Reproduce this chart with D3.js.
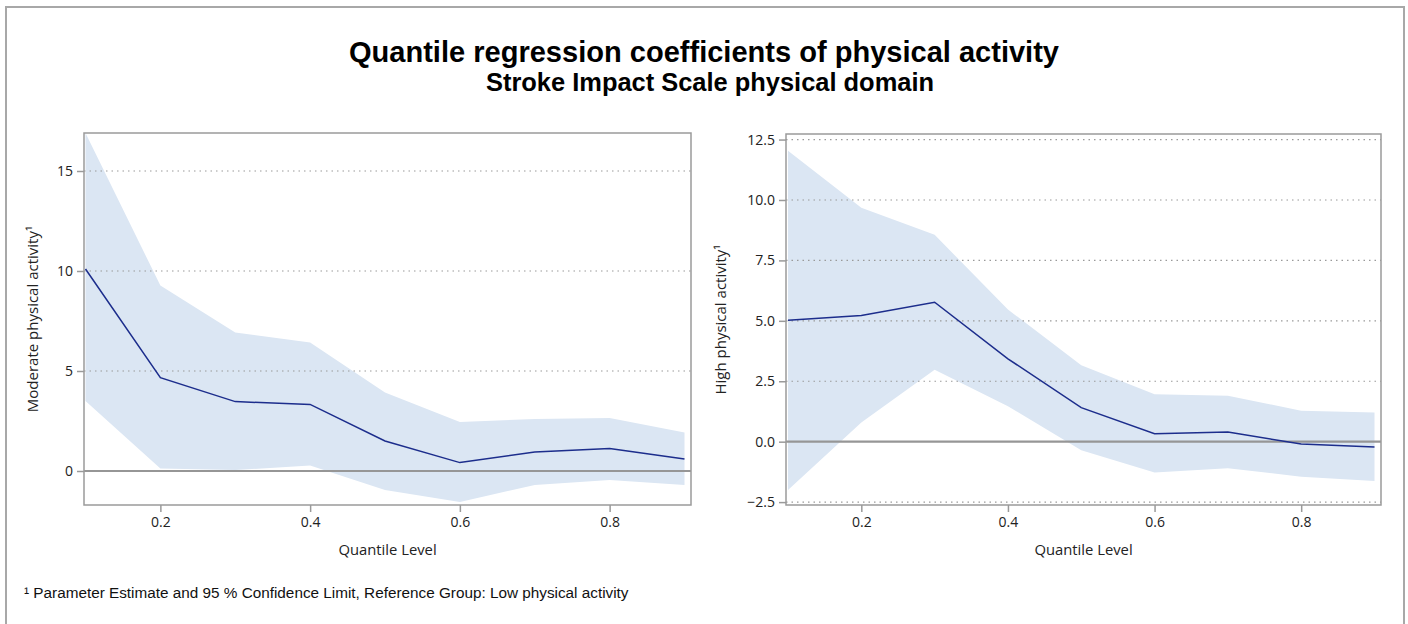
<!DOCTYPE html>
<html>
<head>
<meta charset="utf-8">
<script src="https://cdn.jsdelivr.net/npm/d3@7"></script>
<style>
  body { margin: 0; background: #fff; }
  svg { display: block; }
</style>
</head>
<body>
<svg width="1408" height="624"></svg>
<script>
// quantile levels shared by both panels
const quantiles = [0.1, 0.2, 0.3, 0.4, 0.5, 0.6, 0.7, 0.8, 0.9];

// moderate physical activity
const modEstimate = [10.1, 4.67, 3.47, 3.33, 1.5, 0.42, 0.95, 1.12, 0.6];
const modUpper = [16.9, 9.27, 6.93, 6.43, 3.93, 2.45, 2.6, 2.65, 1.93];
const modLower = [3.5, 0.13, 0.05, 0.27, -0.95, -1.55, -0.7, -0.45, -0.7];

// high physical activity
const highEstimate = [5.02, 5.22, 5.77, 3.43, 1.41, 0.33, 0.4, -0.1, -0.22];
const highUpper = [12.04, 9.68, 8.56, 5.47, 3.16, 1.96, 1.9, 1.28, 1.21];
const highLower = [-2.0, 0.79, 2.98, 1.47, -0.35, -1.28, -1.1, -1.45, -1.63];

const xTicks = [0.2, 0.4, 0.6, 0.8];
const modTicks = [0, 5, 10, 15];
const highTicks = [-2.5, 0, 2.5, 5, 7.5, 10, 12.5];

const svg = d3.select('svg');

// outer border
svg.append('rect')
    .attr('x', 6).attr('y', 7)
    .attr('width', 1398).attr('height', 630)
    .attr('fill', 'none')
    .attr('stroke', '#a8a8a8')
    .attr('stroke-width', 2);

svg.append('text')
    .text('Quantile regression coefficients of physical activity')
    .attr('x', 704).attr('y', 62)
    .attr('text-anchor', 'middle')
    .attr('textLength', 710)
    .attr('lengthAdjust', 'spacingAndGlyphs')
    .style('font-family', 'Liberation Sans, Arial, sans-serif')
    .style('font-weight', 'bold')
    .style('font-size', '30px');

svg.append('text')
    .text('Stroke Impact Scale physical domain')
    .attr('x', 710).attr('y', 91)
    .attr('text-anchor', 'middle')
    .attr('textLength', 448)
    .attr('lengthAdjust', 'spacingAndGlyphs')
    .style('font-family', 'Liberation Sans, Arial, sans-serif')
    .style('font-weight', 'bold')
    .style('font-size', '25px');

svg.append('text')
    .text('\u00b9 Parameter Estimate and 95 % Confidence Limit, Reference Group: Low physical activity')
    .attr('x', 24).attr('y', 598)
    .style('font-family', 'Liberation Sans, Arial, sans-serif')
    .style('font-size', '15.3px')
    .style('fill', '#111');

function panel(opt) {
    const g = svg.append('g');
    const x = d3.scaleLinear().domain([0.1, 0.9]).range(opt.xr);
    const y = d3.scaleLinear().domain(opt.yd).range([opt.bottom, opt.top]);

    const rows = quantiles.map((q, i) => ({ q: q, est: opt.est[i], lo: opt.lo[i], hi: opt.hi[i] }));

    g.append('path')
        .datum(rows)
        .attr('d', d3.area().x(d => x(d.q)).y0(d => y(d.lo)).y1(d => y(d.hi)))
        .attr('fill', '#dbe6f3');

    // dotted grid lines
    g.selectAll('line.grid')
        .data(opt.ticks.filter(t => t !== 0))
        .join('line')
        .attr('class', 'grid')
        .attr('x1', opt.left).attr('x2', opt.right)
        .attr('y1', d => y(d)).attr('y2', d => y(d))
        .attr('stroke', '#9a9a9a')
        .attr('stroke-width', 1.2)
        .attr('stroke-dasharray', '1.5 4');

    // zero reference
    g.append('line')
        .attr('x1', opt.left).attr('x2', opt.right)
        .attr('y1', y(0)).attr('y2', y(0))
        .attr('stroke', '#969696')
        .attr('stroke-width', 2.2);

    g.append('path')
        .datum(rows)
        .attr('d', d3.line().x(d => x(d.q)).y(d => y(d.est)))
        .attr('fill', 'none')
        .attr('stroke', '#1c2d8c')
        .attr('stroke-width', 1.5);

    g.append('rect')
        .attr('x', opt.left).attr('y', opt.top)
        .attr('width', opt.right - opt.left).attr('height', opt.bottom - opt.top)
        .attr('fill', 'none')
        .attr('stroke', '#9a9a9a')
        .attr('stroke-width', 1.5);

    const xAxis = g.append('g')
        .attr('transform', `translate(0, ${opt.bottom})`)
        .call(d3.axisBottom(x).tickValues(xTicks).tickSize(7).tickPadding(5).tickFormat(d3.format('.1f')));
    const yAxis = g.append('g')
        .attr('transform', `translate(${opt.left}, 0)`)
        .call(d3.axisLeft(y).tickValues(opt.ticks).tickSize(7).tickPadding(4).tickFormat(opt.fmt));

    [xAxis, yAxis].forEach(a => {
        a.select('.domain').remove();
        a.selectAll('line').attr('stroke', '#9a9a9a').attr('stroke-width', 1.5);
        a.selectAll('text')
            .style('font-family', 'Open Sans, Noto Sans, sans-serif')
            .style('font-size', '14px')
            .style('fill', '#222');
    });

    g.append('text')
        .text('Quantile Level')
        .attr('x', (opt.left + opt.right) / 2)
        .attr('y', opt.bottom + 50)
        .attr('text-anchor', 'middle')
        .style('font-family', 'Open Sans, Noto Sans, sans-serif')
        .style('font-size', '14.8px')
        .style('fill', '#222');

    g.append('text')
        .text(opt.label)
        .attr('transform', `translate(${opt.labelX}, ${(opt.top + opt.bottom) / 2}) rotate(-90)`)
        .attr('text-anchor', 'middle')
        .style('font-family', 'Open Sans, Noto Sans, sans-serif')
        .style('font-size', '15px')
        .style('fill', '#222');
}

panel({
    left: 84, right: 691, top: 133, bottom: 505,
    xr: [85.5, 684.5],
    yd: [-1.7, 16.9],
    est: modEstimate, lo: modLower, hi: modUpper,
    ticks: modTicks, fmt: d3.format('d'),
    label: 'Moderate physical activity\u00b9', labelX: 38
});

panel({
    left: 786, right: 1381, top: 134, bottom: 505,
    xr: [788, 1374.5],
    yd: [-2.62, 12.73],
    est: highEstimate, lo: highLower, hi: highUpper,
    ticks: highTicks, fmt: d3.format('.1f'),
    label: 'High physical activity\u00b9', labelX: 726
});
</script>
</body>
</html>
